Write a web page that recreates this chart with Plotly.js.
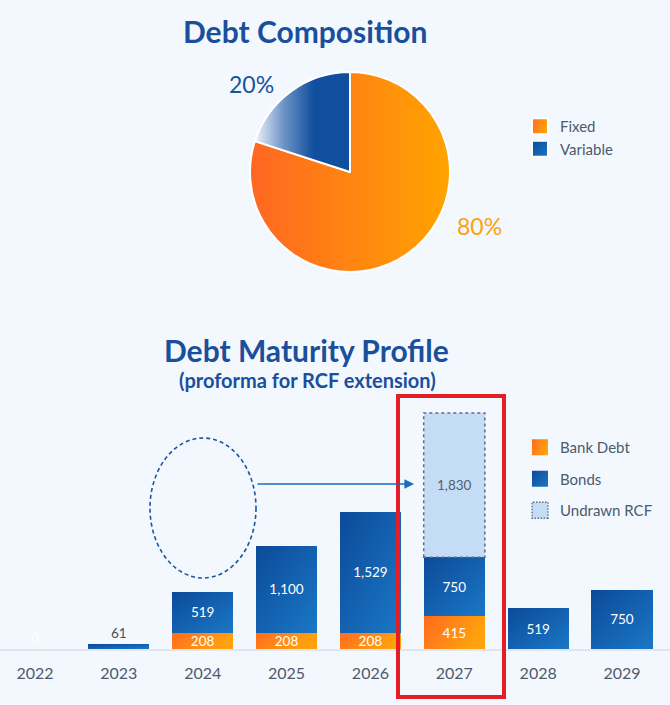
<!DOCTYPE html>
<html>
<head>
<meta charset="utf-8">
<script src="https://cdn.plot.ly/plotly-3.0.1.min.js"></script>
<style>
html,body{margin:0;padding:0;background:#f3f8fe;}
#chart{width:670px;height:705px;}
</style>
</head>
<body>
<svg width="0" height="0" style="position:absolute">
  <defs>
    <linearGradient id="gOrangeH" x1="0" y1="0" x2="1" y2="0">
      <stop offset="0" stop-color="#ff6622"/><stop offset="1" stop-color="#ffa400"/>
    </linearGradient>
    <linearGradient id="gOrangeD" x1="0" y1="0" x2="1" y2="0.35">
      <stop offset="0" stop-color="#ff6a20"/><stop offset="1" stop-color="#ffa30c"/>
    </linearGradient>
    <linearGradient id="gBlueFade" x1="0" y1="0" x2="1" y2="0">
      <stop offset="0" stop-color="#eef3fa"/><stop offset="0.3" stop-color="#6f94c6"/>
      <stop offset="0.62" stop-color="#0f4f9d"/><stop offset="1" stop-color="#0f4f9d"/>
    </linearGradient>
    <linearGradient id="gBlueD" x1="0" y1="0" x2="1" y2="1">
      <stop offset="0" stop-color="#0c4a99"/><stop offset="1" stop-color="#1a78c6"/>
    </linearGradient>
  </defs>
</svg>
<div id="chart"></div>
<script>
// ---- data ----
const pieLabels = ['Fixed', 'Variable'];
const pieValues = [80, 20];

const years = ['2022', '2023', '2024', '2025', '2026', '2027', '2028', '2029'];
const bankDebt = [null, null, 208, 208, 208, 415, null, null];
const bonds = [0, 61, 519, 1100, 1529, 750, 519, 750];
const undrawnRCF = [null, null, null, null, null, 1830, null, null];

// ---- styles ----
const FONT = 'Lato, "Open Sans", sans-serif';
const TITLE_BLUE = '#1a4f9c';
const PIE_ORANGE = '#ff8b18';
const PIE_BLUE = '#1656a3';
const ORANGE = '#ff8a1c';
const BLUE = '#1460ac';
const RCF = '#c4dcf5';
const GREY_TXT = '#4d5a6c';
const BAR_W = 0.73;
const LBL = 13.5;

const pie = {
  type: 'pie',
  labels: pieLabels,
  values: pieValues,
  sort: false,
  direction: 'clockwise',
  rotation: 0,
  marker: {colors: [PIE_ORANGE, PIE_BLUE], line: {color: '#ffffff', width: 2}},
  textinfo: 'none',
  domain: {x: [250/670, 450/670], y: [(649-272)/649, (649-72)/649]},
  legend: 'legend',
  hoverinfo: 'label+percent'
};

const bankTrace = {
  type: 'bar', name: 'Bank Debt', x: years, y: bankDebt, width: BAR_W,
  marker: {color: ORANGE, line: {width: 0}},
  texttemplate: '%{y:,}', textposition: 'inside', insidetextanchor: 'middle',
  constraintext: 'none',
  textfont: {color: '#ffffff', size: LBL, family: FONT},
  legend: 'legend2', legendgroup: 'g1'
};

const bondsTrace = {
  type: 'bar', name: 'Bonds', x: years, y: bonds, width: BAR_W,
  marker: {color: BLUE, line: {width: 0}},
  texttemplate: '%{y:,}',
  textposition: bonds.map(v => v < 100 ? 'outside' : 'inside'),
  insidetextanchor: 'middle',
  constraintext: 'none',
  cliponaxis: false,
  textfont: {color: bonds.map(v => v === 0 ? '#ffffff' : (v < 100 ? '#4a4f5a' : '#ffffff')), size: LBL, family: FONT},
  legend: 'legend2', legendgroup: 'g2'
};

const rcfTrace = {
  type: 'bar', name: 'Undrawn RCF', x: years, y: undrawnRCF, width: BAR_W,
  marker: {color: RCF, line: {width: 0}},
  texttemplate: '%{y:,}', textposition: 'inside', insidetextanchor: 'middle',
  constraintext: 'none',
  textfont: {color: '#4f5f75', size: LBL, family: FONT},
  legend: 'legend2', legendgroup: 'g3'
};

// dotted outline around undrawn RCF, derived from the data arrays
const rcfShapes = [];
undrawnRCF.forEach((v, i) => {
  if (v == null) return;
  const base = (bankDebt[i] || 0) + (bonds[i] || 0);
  rcfShapes.push({type: 'rect', xref: 'x', yref: 'y', layer: 'above',
    x0: i - BAR_W/2, x1: i + BAR_W/2, y0: base, y1: base + v,
    line: {color: '#5d6c80', width: 1.5, dash: 'dot'}, fillcolor: 'rgba(0,0,0,0)'});
});

const py = v => (649 - v) / 649; // screen y -> paper y
const px = v => v / 670;
const ann = (text, x, y, size, color) => ({text, xref: 'paper', yref: 'paper', x: px(x), y: py(y),
  xanchor: 'center', yanchor: 'middle', showarrow: false, font: {size, color, family: FONT}});

const layout = {
  width: 670, height: 705,
  margin: {l: 0, r: 0, t: 0, b: 56},
  paper_bgcolor: '#f3f8fe', plot_bgcolor: '#f3f8fe',
  font: {family: FONT, color: GREY_TXT},
  barmode: 'stack',
  showlegend: true,
  xaxis: {
    type: 'category', domain: [0, 1],
    range: [-0.417, 7.572],
    showgrid: false, zeroline: false, ticks: '',
    showline: true, linecolor: '#e0e5ee', linewidth: 2,
    ticklabelstandoff: 9,
    tickfont: {size: 16, color: GREY_TXT, family: FONT},
    fixedrange: true
  },
  yaxis: {
    domain: [0, (649-400)/649], range: [0, 3160],
    visible: false, showgrid: false, zeroline: false, fixedrange: true
  },
  legend: {
    x: px(520), y: py(110), xanchor: 'left', yanchor: 'top',
    bgcolor: 'rgba(0,0,0,0)', font: {size: 15, color: GREY_TXT, family: FONT}
  },
  legend2: {
    x: px(520), y: py(431), xanchor: 'left', yanchor: 'top',
    traceorder: 'grouped', tracegroupgap: 9,
    bgcolor: 'rgba(0,0,0,0)', font: {size: 15, color: GREY_TXT, family: FONT}
  },
  annotations: [
    ann('<b>Debt Composition</b>', 305, 31, 30, TITLE_BLUE),
    ann('<b>Debt Maturity Profile</b>', 306, 350, 30, TITLE_BLUE),
    ann('<b>(proforma for RCF extension)</b>', 307, 380, 20, TITLE_BLUE),
    ann(pieValues[1] + '%', 251, 84, 23, '#1553a0'),
    ann(pieValues[0] + '%', 479, 226, 23, '#ffa010'),
    {text: '', xref: 'paper', yref: 'paper', x: px(414), y: py(484),
     axref: 'pixel', ayref: 'pixel', ax: -158, ay: 0,
     showarrow: true, arrowhead: 2, arrowsize: 1.2, arrowwidth: 1.6, arrowcolor: '#1a6cbf'}
  ],
  shapes: [
    {type: 'circle', xref: 'paper', yref: 'paper', x0: px(150), x1: px(256), y0: py(578), y1: py(438),
     line: {color: '#1a55a0', width: 1.6, dash: '4px,3px'}},
    {type: 'rect', xref: 'paper', yref: 'paper', x0: px(398), x1: px(504), y0: py(697), y1: py(396),
     line: {color: '#e41e26', width: 4}}
  ].concat(rcfShapes)
};

function hexToRgb(h) {
  const n = parseInt(h.slice(1), 16);
  return 'rgb(' + (n >> 16) + ', ' + ((n >> 8) & 255) + ', ' + (n & 255) + ')';
}

Plotly.newPlot('chart', [pie, bankTrace, bondsTrace, rcfTrace], layout, {displayModeBar: false, staticPlot: true})
.then(gd => {
  try {
    const cPO = hexToRgb(PIE_ORANGE), cPB = hexToRgb(PIE_BLUE), cO = hexToRgb(ORANGE), cB = hexToRgb(BLUE), cR = hexToRgb(RCF);
    gd.querySelectorAll('path').forEach(p => {
      const f = p.style.fill;
      const inLegend = !!p.closest('.legendpoints');
      if (inLegend) {
        if ([cPO, cPB, cO, cB, cR].indexOf(f) >= 0) p.setAttribute('d', 'M8,8H-8V-8H8Z');
        if (f === cPO || f === cO) p.style.fill = 'url(#gOrangeD)';
        else if (f === cPB || f === cB) p.style.fill = 'url(#gBlueD)';
        else if (f === cR) { p.style.stroke = '#5d6c80'; p.style.strokeWidth = '1.3px'; p.style.strokeDasharray = '1.5,1.5'; }
      } else {
        if (f === cPO) p.style.fill = 'url(#gOrangeH)';
        else if (f === cPB) p.style.fill = 'url(#gBlueFade)';
        else if (f === cO) p.style.fill = 'url(#gOrangeD)';
        else if (f === cB) p.style.fill = 'url(#gBlueD)';
      }
    });
  } catch (e) {}
});
</script>
</body>
</html>
